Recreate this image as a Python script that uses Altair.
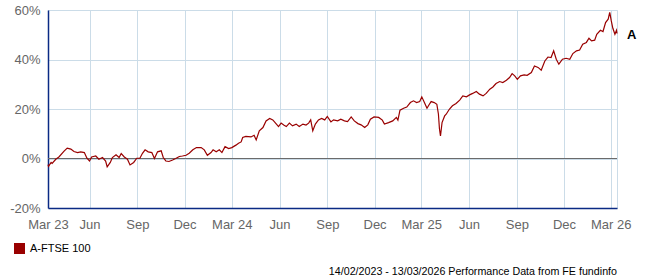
import altair as alt
import pandas as pd

# ---- data ----
dates = [
    "2023-03-13", "2023-03-14", "2023-03-19", "2023-03-21", "2023-03-28", "2023-04-03", "2023-04-13",
    "2023-04-19", "2023-04-26", "2023-05-02", "2023-05-09", "2023-05-15", "2023-05-22", "2023-05-27",
    "2023-06-01", "2023-06-05", "2023-06-13", "2023-06-19", "2023-06-26", "2023-07-02", "2023-07-05",
    "2023-07-11", "2023-07-15", "2023-07-22", "2023-07-28", "2023-08-01", "2023-08-07", "2023-08-13",
    "2023-08-18", "2023-08-25", "2023-08-31", "2023-09-06", "2023-09-11", "2023-09-16", "2023-09-22",
    "2023-09-29", "2023-10-04", "2023-10-10", "2023-10-17", "2023-10-21", "2023-10-26", "2023-11-01",
    "2023-11-08", "2023-11-14", "2023-11-21", "2023-11-27", "2023-12-04", "2023-12-10", "2023-12-17",
    "2023-12-24", "2024-01-02", "2024-01-08", "2024-01-14", "2024-01-21", "2024-01-25", "2024-01-31",
    "2024-02-06", "2024-02-11", "2024-02-17", "2024-02-24", "2024-03-01", "2024-03-09", "2024-03-14",
    "2024-03-19", "2024-03-22", "2024-03-28", "2024-04-07", "2024-04-13", "2024-04-17", "2024-04-23",
    "2024-04-30", "2024-05-06", "2024-05-13", "2024-05-19", "2024-05-26", "2024-05-30", "2024-06-04",
    "2024-06-09", "2024-06-14", "2024-06-20", "2024-06-26", "2024-07-03", "2024-07-09", "2024-07-16",
    "2024-07-22", "2024-07-27", "2024-07-31", "2024-08-04", "2024-08-09", "2024-08-15", "2024-08-21",
    "2024-08-27", "2024-09-01", "2024-09-08", "2024-09-13", "2024-09-21", "2024-09-27", "2024-10-04",
    "2024-10-10", "2024-10-17", "2024-10-23", "2024-10-30", "2024-11-05", "2024-11-12", "2024-11-18",
    "2024-11-23", "2024-11-30", "2024-12-09", "2024-12-16", "2024-12-20", "2024-12-28", "2025-01-05",
    "2025-01-12", "2025-01-15", "2025-01-19", "2025-01-26", "2025-02-01", "2025-02-08", "2025-02-14",
    "2025-02-20", "2025-02-26", "2025-03-02", "2025-03-07", "2025-03-12", "2025-03-16", "2025-03-20",
    "2025-03-26", "2025-03-31", "2025-04-03", "2025-04-05", "2025-04-07", "2025-04-10", "2025-04-15",
    "2025-04-18", "2025-04-24", "2025-04-30", "2025-05-07", "2025-05-14", "2025-05-20", "2025-05-27",
    "2025-06-02", "2025-06-08", "2025-06-15", "2025-06-21", "2025-06-28", "2025-07-04", "2025-07-11",
    "2025-07-17", "2025-07-23", "2025-07-30", "2025-08-05", "2025-08-12", "2025-08-18", "2025-08-23",
    "2025-08-28", "2025-09-02", "2025-09-08", "2025-09-15", "2025-09-21", "2025-09-29", "2025-10-05",
    "2025-10-12", "2025-10-18", "2025-10-25", "2025-10-31", "2025-11-06", "2025-11-11", "2025-11-16",
    "2025-11-21", "2025-11-28", "2025-12-05", "2025-12-12", "2025-12-18", "2025-12-25", "2025-12-31",
    "2026-01-06", "2026-01-13", "2026-01-18", "2026-01-23", "2026-01-29", "2026-02-02", "2026-02-09",
    "2026-02-14", "2026-02-19", "2026-02-24", "2026-02-27", "2026-03-02", "2026-03-05", "2026-03-09",
    "2026-03-12", "2026-03-13",
]
values = [
    -2.5, -3.2, -1.6, -2.0, -0.3, 0.6, 3.0,
    4.2, 3.8, 2.8, 2.4, 2.7, 2.4, 0.1,
    -1.0, 0.6, 1.0, -0.3, 0.4, -1.0, -3.4,
    -1.6, 0.4, 1.5, 0.4, 2.0, 0.6, -0.3,
    -2.6, -1.6, 0.1, 0.1, 2.1, 3.5, 2.7,
    2.4, 0.0, 2.7, 3.1, 0.4, -1.0, -1.2,
    -0.6, 0.0, 0.8, 1.0, 1.3, 2.1, 3.5,
    4.4, 4.4, 3.5, 1.3, 2.4, 3.5, 2.7,
    3.5, 2.4, 4.8, 4.0, 4.4, 5.4, 6.2,
    6.7, 8.5, 8.9, 8.7, 9.4, 7.5, 11.2,
    12.5, 15.2, 16.2, 15.6, 13.9, 12.9, 14.3,
    13.5, 12.9, 14.3, 13.2, 13.9, 12.9, 13.9,
    13.5, 14.3, 15.6, 11.2, 13.9, 15.6, 16.2,
    15.6, 17.0, 14.8, 15.6, 15.2, 15.9, 15.2,
    14.9, 16.8, 15.2, 14.1, 13.6, 12.5, 13.6,
    15.9, 16.8, 16.6, 15.5, 13.9, 14.5, 15.2,
    16.6, 15.5, 19.5, 20.3, 20.8, 22.6, 23.3,
    22.6, 23.0, 24.9, 22.6, 20.3, 21.7, 23.0,
    22.6, 21.9, 18.0, 12.0, 9.1, 14.5, 17.2,
    17.9, 19.9, 21.3, 22.2, 23.6, 25.3, 24.9,
    25.7, 26.3, 27.1, 26.0, 25.3, 26.3, 28.0,
    28.9, 30.3, 31.1, 30.7, 31.6, 32.7, 34.3,
    33.4, 32.0, 33.4, 33.8, 33.6, 34.7, 37.4,
    36.8, 35.7, 39.4, 41.0, 40.8, 43.5, 40.1,
    38.1, 40.1, 40.5, 40.1, 42.4, 43.5, 43.8,
    46.2, 46.9, 48.6, 47.5, 47.8, 50.2, 51.8,
    51.3, 54.9, 56.3, 59.0, 55.6, 52.6, 50.2,
    51.8, 50.5,
]
series_name = "A-FTSE 100"
end_label = "A"
x_tick_dates = [
    "2023-03-13", "2023-06-01", "2023-09-01", "2023-12-01",
    "2024-03-01", "2024-06-01", "2024-09-01", "2024-12-01",
    "2025-03-01", "2025-06-01", "2025-09-01", "2025-12-01",
    "2026-03-01",
]
x_domain = ["2023-03-13", "2026-03-13"]
y_ticks = [-20, 0, 20, 40, 60]
footer = "14/02/2023 - 13/03/2026 Performance Data from FE fundinfo"

# ---- styling ----
LINE = "#990000"
GRID = "#cbdce8"
AXIS = "#0a2a84"
LABEL = "#666666"
FONT = "Liberation Sans"


def dt(s):
    return alt.DateTime(year=int(s[:4]), month=int(s[5:7]), date=int(s[8:10]), utc=True)


df = pd.DataFrame({"date": dates, "value": values, "series": series_name})
last = df.tail(1).assign(label=end_label)

x_enc = alt.X(
    "date:T",
    scale=alt.Scale(type="utc", domain=[dt(d) for d in x_domain], nice=False),
    axis=alt.Axis(
        values=[dt(d) for d in x_tick_dates],
        labelExpr="utcFormat(datum.value, '%m') == '03' ? utcFormat(datum.value, 'Mar %y') : utcFormat(datum.value, '%b')",
        grid=True, gridColor=GRID, gridWidth=1, ticks=False,
        domainColor=AXIS, domainWidth=1.5,
        labelColor=LABEL, labelFontSize=13, labelPadding=10,
        labelFlush=False, labelOverlap=False, title=None,
    ),
)
y_enc = alt.Y(
    "value:Q",
    scale=alt.Scale(domain=[-20, 60], nice=False),
    axis=alt.Axis(
        values=y_ticks, labelExpr="datum.value + '%'",
        grid=True, gridColor=GRID, gridWidth=1, ticks=False,
        domainColor=AXIS, domainWidth=1.5,
        labelColor=LABEL, labelFontSize=13, labelPadding=8, title=None,
    ),
)

base = alt.Chart(df)

line = base.mark_line(strokeWidth=1.2, interpolate="linear").encode(
    x=x_enc,
    y=y_enc,
    color=alt.Color(
        "series:N",
        scale=alt.Scale(range=[LINE]),
        legend=alt.Legend(
            orient="none", legendX=-34, legendY=233, title=None,
            symbolType="square", symbolSize=121, symbolFillColor=LINE,
            symbolStrokeColor=LINE, symbolStrokeWidth=0, symbolOpacity=1,
            labelFontSize=11, labelColor="black", labelOffset=5, padding=0,
            labelFont=FONT,
        ),
    ),
)

zero = alt.Chart(pd.DataFrame({"v": [0]})).mark_rule(color="#6b6b6b", strokeWidth=1.2).encode(
    y=alt.Y("v:Q", scale=alt.Scale(domain=[-20, 60], nice=False))
)

end_text = alt.Chart(last).mark_text(
    align="left", baseline="middle", dx=10, dy=1, fontSize=13, fontWeight="bold", color="black"
).encode(x="date:T", y="value:Q", text="label:N")

foot = alt.Chart(pd.DataFrame({"t": [footer]})).mark_text(
    align="right", baseline="middle", fontSize=10.7, color="black"
).encode(x=alt.value(569), y=alt.value(262), text="t:N")

chart = (
    alt.layer(zero, line, end_text, foot)
    .properties(
        width=569, height=198,
        autosize=alt.AutoSizeParams(type="none"),
        padding={"left": 48, "top": 10, "right": 30, "bottom": 72},
        background="white",
    )
    .configure(font=FONT)
    .configure_view(stroke=GRID, strokeWidth=1)
)

chart.save("out.html", embed_options={"renderer": "svg", "actions": False})
